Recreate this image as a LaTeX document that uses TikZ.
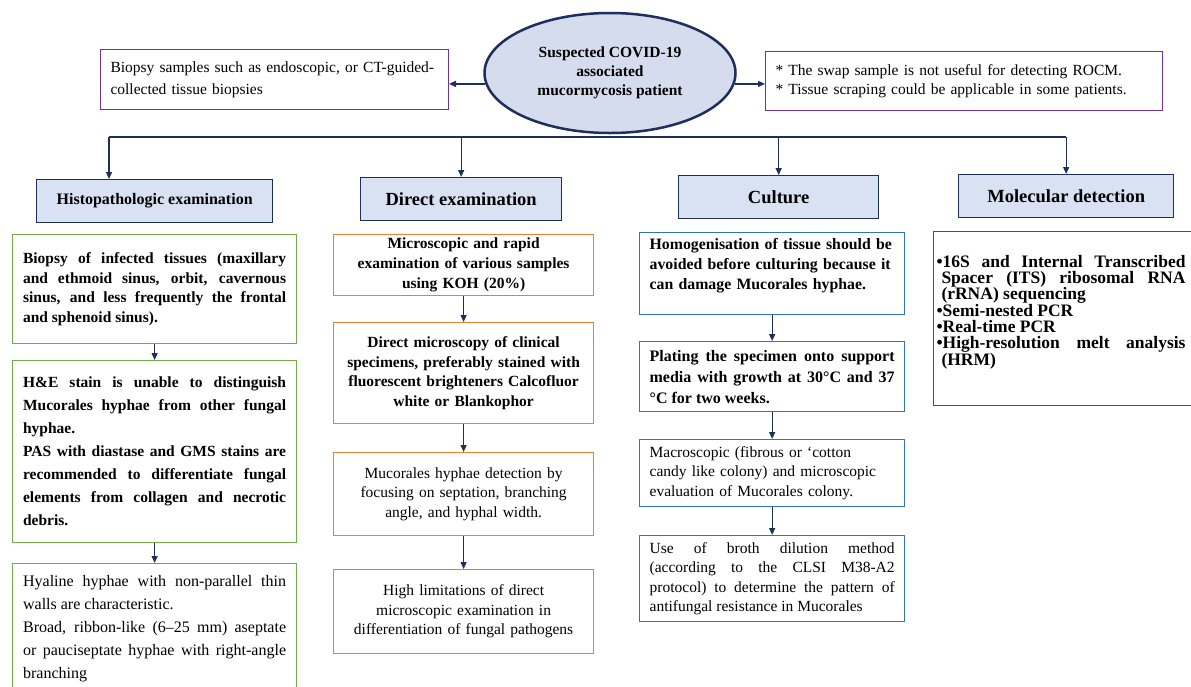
\documentclass[tikz,border=0pt]{standalone}
\usepackage{fontspec}
\setmainfont{Liberation Serif}
\usetikzlibrary{
    arrows.meta,
    shapes.geometric
}
\setlength{\parindent}{0pt}
\setlength{\lineskiplimit}{-8pt}
\definecolor{navy}{HTML}{1F2F5C}
\definecolor{hdrfill}{HTML}{D9E2F3}
\definecolor{ellfill}{HTML}{D5DCEE}
\definecolor{grnline}{HTML}{70AD47}
\definecolor{orgline}{HTML}{ED7D31}
\definecolor{bluline}{HTML}{2E75B6}
\definecolor{purline}{HTML}{7030A0}
\newcommand{\fsz}[2]{\fontsize{#1}{#2}\selectfont}
\newcommand{\mitem}{\par\hangindent=5pt\hangafter=1\textbullet}
\tikzset{arr/.style={draw=navy, line width=1.3pt, -{Triangle[length=7pt,width=6pt]}}}
\tikzset{bus/.style={draw=navy, line width=2pt}}
\tikzset{ell/.style={ellipse, draw=navy, line width=2.5pt, fill=ellfill, minimum width=251pt, minimum height=120pt, inner sep=0pt, align=center, font=\bfseries\fsz{15.5}{19}}}
\tikzset{tbox/.style={draw=purline, line width=1pt, anchor=north west, align=left, inner xsep=10pt, font=\fsz{15.5}{20}}}
\tikzset{hdr/.style={draw=navy, fill=hdrfill, line width=1.3pt, anchor=north west, inner sep=0pt, minimum height=43pt, font=\bfseries\fsz{18.5}{22}}}
\tikzset{hbox/.style={draw=grnline, line width=1.2pt, anchor=north west, inner xsep=10.5pt, text width=263pt, align=justify}}
\tikzset{dbox/.style={draw=orgline, line width=1.2pt, anchor=north west, inner xsep=8pt, text width=244pt, align=center, font=\fsz{15.5}{19.5}}}
\tikzset{cbox/.style={draw=bluline, line width=1.3pt, anchor=north west, inner xsep=10pt, text width=245pt, align=justify, font=\fsz{15.5}{19.5}}}
\tikzset{mbox/.style={draw=purline, line width=1pt, anchor=north west, inner xsep=3pt, text width=269pt, align=justify, font=\bfseries\fsz{17.5}{16}}}

\begin{document}
\begin{tikzpicture}[x=1pt, y=-1pt]
    \path[use as bounding box, fill=white] (0,0) rectangle (1191,686);

    % top row
    \node[ell] (susp) at (610,73) {Suspected COVID-19\\associated\\mucormycosis patient};
    \node[tbox, minimum width=348pt, minimum height=60pt, text width=328pt, font=\fsz{15.5}{22}] (biopsy) at (100,49)
        {Biopsy samples such as endoscopic, or CT-guided-\\collected tissue biopsies};
    \node[tbox, minimum width=397pt, minimum height=59pt, text width=377pt, font=\fsz{15.5}{18.5}] (swap) at (765,51)
        {* The swap sample is not useful for detecting ROCM.\\{}* Tissue scraping could be applicable in some patients.};
    \draw[arr] (susp.185) -- (susp.185 -| biopsy.east);
    \draw[arr] (susp.355) -- (susp.355 -| swap.west);

    % headers
    \node[hdr, minimum width=236pt, font=\bfseries\fsz{16}{18}] (histo) at (36,179) {Histopathologic examination};
    \node[hdr, minimum width=201pt] (direct) at (360,177) {Direct examination};
    \node[hdr, minimum width=200pt] (cult) at (678,175) {Culture};
    \node[hdr, minimum width=215pt] (mol) at (958,174) {Molecular detection};

    \coordinate (bl) at (109,137);
    \draw[bus] (bl) -- (mol.north |- bl);
    \draw[arr] (bl) -- (bl |- histo.north);
    \draw[arr] (direct.north |- bl) -- (direct.north);
    \draw[arr] (cult.north |- bl) -- (cult.north);
    \draw[arr] (mol.north |- bl) -- (mol.north);

    % histopathologic column
    \node[hbox, minimum height=109pt, font=\bfseries\fsz{15.5}{19.5}] (h1) at (12,234)
        {Biopsy of infected tissues (maxillary\linebreak and ethmoid sinus, orbit, cavernous\linebreak sinus, and less frequently the frontal\linebreak and sphenoid sinus).};
    \node[hbox, minimum height=182pt, font=\bfseries\fsz{15.5}{23}] (h2) at (12,360)
        {H\&E stain is unable to distinguish\linebreak Mucorales hyphae from other fungal\linebreak hyphae.\par
         PAS with diastase and GMS stains are\linebreak recommended to differentiate fungal\linebreak elements from collagen and necrotic\linebreak debris.};
    \node[hbox, minimum height=131pt, font=\fsz{16}{23}] (h3) at (12,563)
        {Hyaline hyphae with non-parallel thin\linebreak walls are characteristic.\par
         Broad, ribbon-like (6--25 mm) aseptate\linebreak or pauciseptate hyphae with right-angle\linebreak branching};
    \draw (h1) edge[arr] (h2) (h2) edge[arr] (h3);

    % direct column
    \node[dbox, minimum height=59pt, font=\bfseries\fsz{15.5}{20}] (d1) at (333,234)
        {Microscopic and rapid\\examination of various samples\\using KOH (20\%)};
    \node[dbox, minimum height=101pt, font=\bfseries\fsz{15.5}{19.5}] (d2) at (333,322)
        {Direct microscopy of clinical\\specimens, preferably stained with\\fluorescent brighteners Calcofluor\\white or Blankophor};
    \node[dbox, minimum height=83pt] (d3) at (333,452)
        {Mucorales hyphae detection by\\focusing on septation, branching\\angle, and hyphal width.};
    \node[dbox, minimum height=84pt] (d4) at (333,569)
        {High limitations of direct\\microscopic examination in\\differentiation of fungal pathogens};
    \draw (d1) edge[arr] (d2) (d2) edge[arr] (d3) (d3) edge[arr] (d4);

    % culture column
    \node[cbox, minimum height=82pt, align=left, font=\bfseries\fsz{15.8}{20}] (c1) at (639,232)
        {Homogenisation of tissue should be\\avoided before culturing because it\\can damage Mucorales hyphae.\\\mbox{}};
    \node[cbox, minimum height=70pt, font=\bfseries\fsz{16}{21}] (c2) at (639,341)
        {Plating the specimen onto support\linebreak media with growth at 30°C and 37\linebreak °C for two weeks.};
    \node[cbox, minimum height=67pt, align=left] (c3) at (639,439)
        {Macroscopic (fibrous or `cotton\\candy like colony) and microscopic\\evaluation of Mucorales colony.};
    \node[cbox, minimum height=86pt] (c4) at (639,535)
        {Use of broth dilution method\linebreak (according to the CLSI M38-A2\linebreak protocol) to determine the pattern of\linebreak antifungal resistance in Mucorales};
    \draw (c1) edge[arr] (c2) (c2) edge[arr] (c3) (c3) edge[arr] (c4);

    % molecular column
    \node[mbox, minimum height=174pt] (m1) at (933,231)
        {\begin{minipage}{249pt}\rightskip=0pt\relax
         \mitem 16S and Internal Transcribed\linebreak Spacer (ITS) ribosomal RNA\linebreak (rRNA) sequencing
         \mitem Semi-nested PCR
         \mitem Real-time PCR
         \mitem High-resolution melt analysis\linebreak (HRM)\par\mbox{}
         \end{minipage}};
\end{tikzpicture}
\end{document}
